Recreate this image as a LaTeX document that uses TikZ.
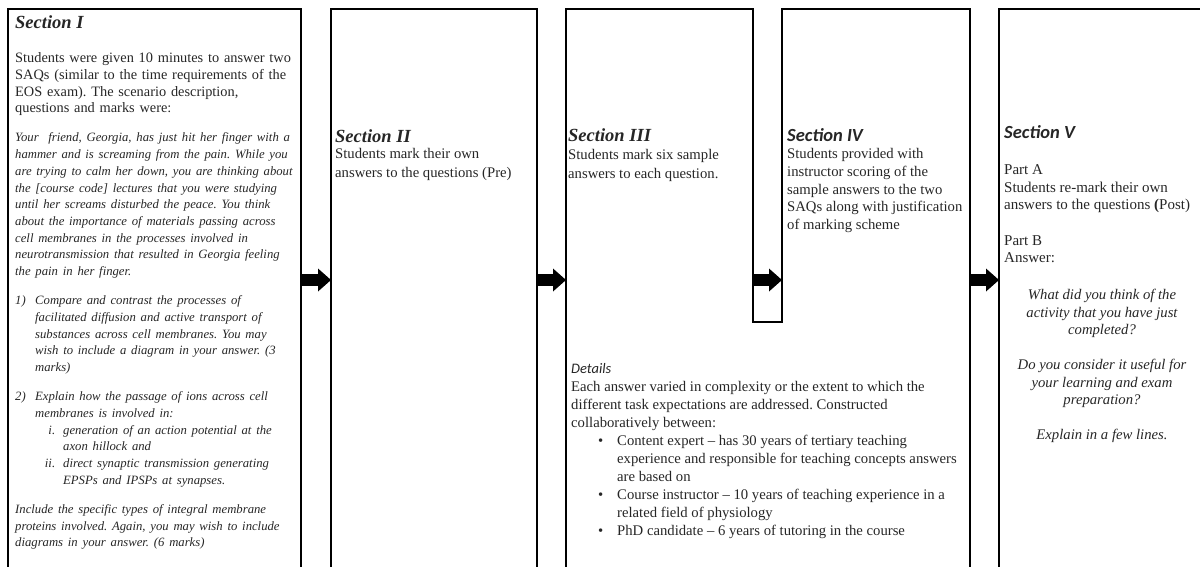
\documentclass[tikz,border=0pt]{standalone}
\usepackage{fontspec}
\setmainfont{Liberation Serif}
\newfontfamily\calibri{Carlito}
\usetikzlibrary{arrows.meta,positioning}
\setlength{\parindent}{0pt}
\frenchspacing

\begin{document}
\begin{tikzpicture}[x=1pt,y=-1pt]
  \tikzstyle{secblock}=[rectangle, draw, line width=1.6pt, inner sep=0pt, outer sep=0pt,
                        minimum height=620pt, anchor=north west]
  \tikzstyle{title}=[inner sep=0pt, anchor=north west, text=black!85,
                     font=\fontsize{18.5}{22}\selectfont\bfseries\itshape]
  \tikzstyle{sanstitle}=[title, font=\fontsize{18.5}{22}\selectfont\calibri\bfseries\itshape]
  \tikzstyle{bodytext}=[inner sep=0pt, anchor=north west, align=left, text=black!85,
                        font=\fontsize{14.7}{17.8}\selectfont]
  \tikzstyle{bigarrow}=[line width=12pt, -{Triangle[length=13pt,width=23pt,line width=0pt]}]

  \useasboundingbox (0,0) rectangle (1200,567);
  \clip (0,0) rectangle (1200,567);

  \node[secblock, minimum width=293pt] (secI) at (8,9) {};
  \node[secblock, minimum width=206pt, right=30pt of secI] (secII) {};
  \node[secblock, draw=none, minimum width=187pt, right=29pt of secII] (secIII) {};
  \node[secblock, draw=none, minimum width=188pt, right=29pt of secIII] (secIV) {};
  \node[secblock, minimum width=260pt, right=29pt of secIV] (secV) {};

  \coordinate (notch) at (0,322);
  \coordinate (row) at (0,280);
  \draw[line width=1.6pt] (secIII.south west) |- (secIII.north east) |- (secIV.west |- notch)
        |- (secIV.north east) -- (secIV.south east);

  \node[title, below right=6pt and 7pt of secI.north west] (titleI) {Section I};
  \node[bodytext, below right=43.5pt and 7pt of secI.north west, text width=300pt,
        font=\fontsize{14.35}{16.7}\selectfont] (textI) {%
    Students were given 10 minutes to answer two\\
    SAQs (similar to the time requirements of the\\
    EOS exam). The scenario description,\\
    questions and marks were:\par
    \vspace{12.5pt}
    {\fontsize{12.7}{16.7}\selectfont\itshape
    Your\ \ friend, Georgia, has just hit her finger with a\\
    hammer and is screaming from the pain. While you\\
    are trying to calm her down, you are thinking about\\
    the [course code] lectures that you were studying\\
    until her screams disturbed the peace. You think\\
    about the importance of materials passing across\\
    cell membranes in the processes involved in\\
    neurotransmission that resulted in Georgia feeling\\
    the pain in her finger.\par
    \vspace{12.5pt}
    \makebox[20pt][l]{1)}Compare and contrast the processes of\\
    \hspace*{20pt}facilitated diffusion and active transport of\\
    \hspace*{20pt}substances across cell membranes. You may\\
    \hspace*{20pt}wish to include a diagram in your answer. (3\\
    \hspace*{20pt}marks)\par
    \vspace{12.5pt}
    \makebox[20pt][l]{2)}Explain how the passage of ions across cell\\
    \hspace*{20pt}membranes is involved in:\\
    \hspace*{30pt}\makebox[10pt][r]{i.}\hspace*{8pt}generation of an action potential at the\\
    \hspace*{48pt}axon hillock and\\
    \hspace*{30pt}\makebox[10pt][r]{ii.}\hspace*{8pt}direct synaptic transmission generating\\
    \hspace*{48pt}EPSPs and IPSPs at synapses.\par
    \vspace{12.5pt}
    Include the specific types of integral membrane\\
    proteins involved. Again, you may wish to include\\
    diagrams in your answer. (6 marks)\par}};

  \node[title, below right=120pt and 4pt of secII.north west] (titleII) {Section II};
  \node[bodytext, below right=139.5pt and 4pt of secII.north west,
        font=\fontsize{14.7}{19}\selectfont] (textII) {Students mark their own\\
                                                       answers to the questions (Pre)};

  \node[title, below right=119pt and 2pt of secIII.north west] (titleIII) {Section III};
  \node[bodytext, below right=140.5pt and 2pt of secIII.north west,
        font=\fontsize{14.7}{18.5}\selectfont] (textIII) {Students mark six sample\\
                                                         answers to each question.};

  \node[sanstitle, below right=119pt and 5pt of secIV.north west] (titleIV) {Section IV};
  \node[bodytext, below right=139pt and 5pt of secIV.north west] (textIV) {Students provided with\\
                                                                          instructor scoring of the\\
                                                                          sample answers to the two\\
                                                                          SAQs along with justification\\
                                                                          of marking scheme};

  \node[inner sep=0pt, anchor=north west, text=black!85, font=\fontsize{14.5}{17}\selectfont\calibri\itshape,
        below right=354pt and 5pt of secIII.north west] (details) {Details};
  \node[bodytext, below right=372pt and 5pt of secIII.north west,
        font=\fontsize{14.7}{18}\selectfont] (detailstext) {%
    Each answer varied in complexity or the extent to which the\\
    different task expectations are addressed. Constructed\\
    collaboratively between:\\
    \hspace*{27pt}\makebox[19pt][l]{\textbullet}Content expert -- has 30 years of tertiary teaching\\
    \hspace*{46pt}experience and responsible for teaching concepts answers\\
    \hspace*{46pt}are based on\\
    \hspace*{27pt}\makebox[19pt][l]{\textbullet}Course instructor -- 10 years of teaching experience in a\\
    \hspace*{46pt}related field of physiology\\
    \hspace*{27pt}\makebox[19pt][l]{\textbullet}PhD candidate -- 6 years of tutoring in the course};

  \node[sanstitle, below right=116pt and 5pt of secV.north west] (titleV) {Section V};
  \node[bodytext, below right=155.5pt and 5pt of secV.north west,
        font=\fontsize{15}{17.6}\selectfont] (textV) {Part A\\
                                                     Students re-mark their own\\
                                                     answers to the questions {\bfseries(}Post)\\[17.6pt]
                                                     Part B\\
                                                     Answer:};
  \node[bodytext, below right=280.4pt and 103pt of secV.north west, anchor=north, align=center,
        font=\fontsize{14.7}{17.5}\selectfont\itshape] (questionsV) {What did you think of the\\
                                                                    activity that you have just\\
                                                                    completed?\\[17.5pt]
                                                                    Do you consider it useful for\\
                                                                    your learning and exam\\
                                                                    preparation?\\[17.5pt]
                                                                    Explain in a few lines.};

  \draw[bigarrow] (secI.east |- row) -- (secII.west |- row);
  \draw[bigarrow] (secII.east |- row) -- (secIII.west |- row);
  \draw[bigarrow] (secIII.east |- row) -- (secIV.west |- row);
  \draw[bigarrow] (secIV.east |- row) -- (secV.west |- row);
\end{tikzpicture}
\end{document}
